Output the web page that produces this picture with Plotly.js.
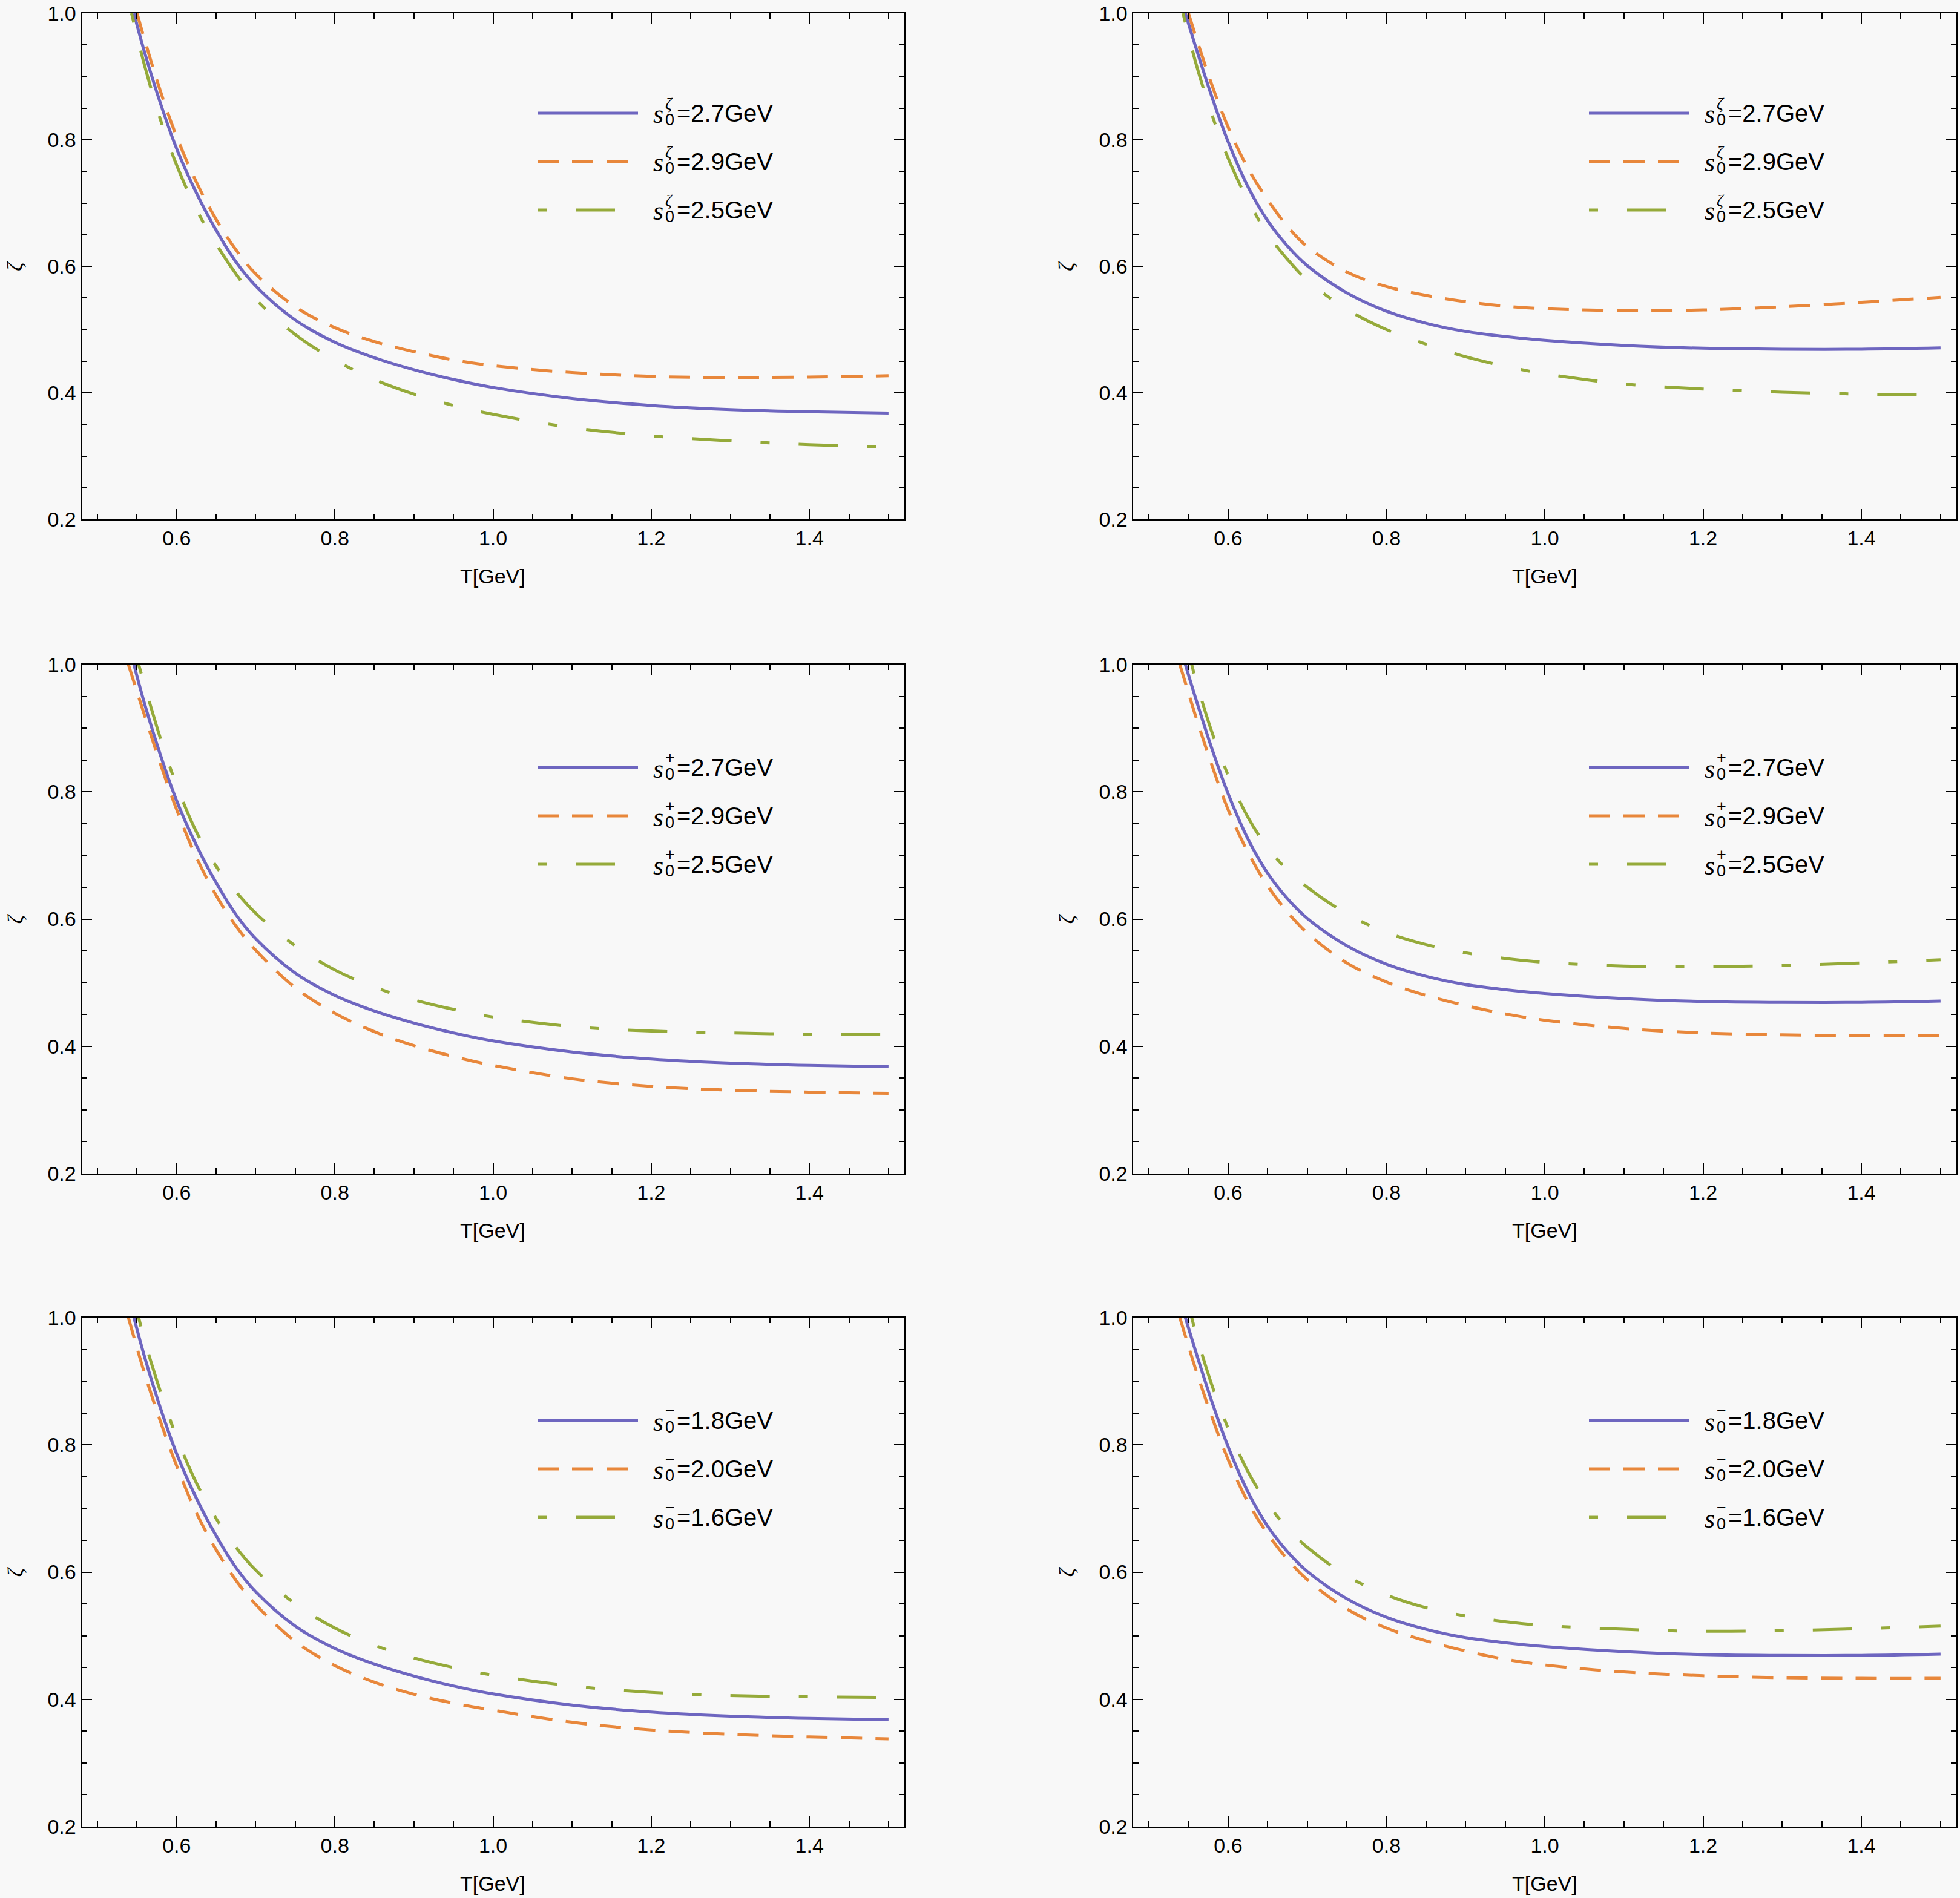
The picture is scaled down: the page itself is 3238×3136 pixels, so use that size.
<!DOCTYPE html>
<html>
<head>
<meta charset="utf-8">
<script src="https://cdn.plot.ly/plotly-3.0.1.min.js"></script>
<style>
  html, body { margin: 0; padding: 0; background: #f8f8f8; }
  #chart { width: 3238px; height: 3136px; }
</style>
</head>
<body>
<div id="chart"></div>
<script>
// temperature grid (GeV), shared by every curve after its own start point
var T = [0.56, 0.58, 0.6, 0.625, 0.65, 0.675, 0.7, 0.75, 0.8, 0.85, 0.9, 0.95, 1.0, 1.1, 1.2, 1.3, 1.4, 1.5];

// where each curve leaves the top of the frame (zeta = 1)
var startMidL = 0.546, startMidR = 0.546;
var startOrange = [0.55, 0.55, 0.539, 0.539, 0.539, 0.539];
var startGreen  = [0.543, 0.543, 0.552, 0.554, 0.552, 0.554];

// central curves (s0 = 2.7 / 1.8 GeV), same in each column
var midLeft  = [0.936, 0.856, 0.786, 0.716, 0.657, 0.607, 0.569, 0.515, 0.480, 0.4555, 0.4365, 0.421, 0.4085, 0.391, 0.380, 0.3735, 0.370, 0.368];
var midRight = [0.943, 0.866, 0.797, 0.726, 0.672, 0.632, 0.601, 0.558, 0.529, 0.510, 0.497, 0.489, 0.483, 0.475, 0.4705, 0.469, 0.469, 0.471];

// dashed (orange) curves, panel 1..6
var orange1 = [0.956, 0.875, 0.805, 0.733, 0.674, 0.626, 0.588, 0.536, 0.503, 0.481, 0.465, 0.452, 0.443, 0.432, 0.426, 0.424, 0.425, 0.427];
var orange2 = [0.96, 0.885, 0.82, 0.755, 0.705, 0.663, 0.631, 0.591, 0.568, 0.554, 0.544, 0.537, 0.533, 0.530, 0.531, 0.536, 0.543, 0.551];
var orange3 = [0.918, 0.842, 0.772, 0.697, 0.637, 0.589, 0.551, 0.492, 0.452, 0.423, 0.401, 0.384, 0.370, 0.349, 0.337, 0.331, 0.328, 0.326];
var orange4 = [0.915, 0.84, 0.772, 0.705, 0.652, 0.611, 0.578, 0.531, 0.501, 0.48, 0.464, 0.451, 0.441, 0.428, 0.421, 0.418, 0.417, 0.417];
var orange5 = [0.91, 0.835, 0.767, 0.693, 0.635, 0.587, 0.549, 0.491, 0.453, 0.427, 0.408, 0.394, 0.383, 0.364, 0.352, 0.345, 0.341, 0.338];
var orange6 = [0.915, 0.842, 0.777, 0.71, 0.66, 0.62, 0.588, 0.542, 0.512, 0.492, 0.476, 0.463, 0.454, 0.443, 0.437, 0.434, 0.433, 0.433];

// dot-dashed (green) curves, panel 1..6
var green1 = [0.915, 0.83, 0.76, 0.69, 0.635, 0.588, 0.548, 0.492, 0.452, 0.421, 0.398, 0.38, 0.366, 0.345, 0.332, 0.324, 0.318, 0.314];
var green2 = [0.918, 0.838, 0.771, 0.704, 0.651, 0.611, 0.578, 0.532, 0.50, 0.477, 0.457, 0.442, 0.43, 0.414, 0.406, 0.401, 0.398, 0.396];
var green3 = [0.965, 0.882, 0.81, 0.737, 0.683, 0.643, 0.609, 0.558, 0.52, 0.493, 0.473, 0.458, 0.446, 0.431, 0.424, 0.421, 0.419, 0.419];
var green4 = [0.972, 0.892, 0.826, 0.76, 0.712, 0.677, 0.65, 0.608, 0.579, 0.560, 0.547, 0.538, 0.532, 0.526, 0.525, 0.527, 0.531, 0.536];
var green5 = [0.962, 0.882, 0.812, 0.74, 0.684, 0.639, 0.603, 0.55, 0.512, 0.485, 0.465, 0.45, 0.438, 0.421, 0.411, 0.406, 0.404, 0.403];
var green6 = [0.972, 0.892, 0.826, 0.758, 0.707, 0.669, 0.639, 0.594, 0.564, 0.544, 0.531, 0.522, 0.516, 0.510, 0.507, 0.508, 0.511, 0.515];

// legend texts
var legendSym = ['\u03B6', '\u03B6', '+', '+', '\u2212', '\u2212'];
var legendVals = [
  ['2.7', '2.9', '2.5'], ['2.7', '2.9', '2.5'],
  ['2.7', '2.9', '2.5'], ['2.7', '2.9', '2.5'],
  ['1.8', '2.0', '1.6'], ['1.8', '2.0', '1.6']
];

var colors = ['#6e66c0', '#e8873b', '#95aa3a'];
var dashes = ['solid', '35px,22px', '15px,48px,65px,48px'];

var oranges = [orange1, orange2, orange3, orange4, orange5, orange6];
var greens = [green1, green2, green3, green4, green5, green6];

// panel geometry in px
var W = 3238, H = 3136;
var colX = [[135, 1494], [1872, 3232]];
var rowY = [[22, 858], [1098, 1939], [2177, 3018]];

var sans = 'Liberation Sans, Arial, Helvetica, sans-serif';
var serif = 'Liberation Serif, Times New Roman, serif';

var data = [];
var layout = {
  width: W, height: H,
  margin: {l: 0, r: 0, t: 0, b: 0},
  paper_bgcolor: '#f8f8f8',
  plot_bgcolor: '#f8f8f8',
  showlegend: false,
  shapes: [],
  annotations: []
};

function axisBase() {
  return {
    showline: true, mirror: 'allticks', linecolor: '#000', linewidth: 2.5,
    ticks: 'inside', ticklen: 17, tickwidth: 2, tickcolor: '#000',
    tick0: 0, dtick: 0.2, tickformat: '.1f', ticklabeloverflow: 'allow',
    minor: {tick0: 0, dtick: 0.05, ticks: 'inside', ticklen: 9, tickwidth: 2, tickcolor: '#000', showgrid: false},
    showgrid: false, zeroline: false, fixedrange: true,
    tickfont: {family: sans, size: 34, color: '#000'}
  };
}

for (var i = 0; i < 6; i++) {
  var col = i % 2, row = Math.floor(i / 2);
  var suf = i === 0 ? '' : String(i + 1);
  var xa = 'x' + suf, ya = 'y' + suf;
  var panelW = colX[col][1] - colX[col][0];
  var panelH = rowY[row][1] - rowY[row][0];

  var ax = axisBase();
  ax.domain = [colX[col][0] / W, colX[col][1] / W];
  ax.range = [0.48, 1.52];
  ax.anchor = ya;
  var ay = axisBase();
  ay.domain = [1 - rowY[row][1] / H, 1 - rowY[row][0] / H];
  ay.range = [0.2, 1.0];
  ay.anchor = xa;
  layout['xaxis' + suf] = ax;
  layout['yaxis' + suf] = ay;

  var mid = col === 0 ? midLeft : midRight;
  var midStart = col === 0 ? startMidL : startMidR;
  var series = [
    {x0: midStart, y: mid},
    {x0: startOrange[i], y: oranges[i]},
    {x0: startGreen[i], y: greens[i]}
  ];
  for (var k = 0; k < 3; k++) {
    data.push({
      type: 'scatter', mode: 'lines', xaxis: xa, yaxis: ya,
      x: [series[k].x0].concat(T),
      y: [1.0].concat(series[k].y),
      line: {color: colors[k], width: 5, dash: dashes[k], shape: 'spline', smoothing: 1},
      cliponaxis: true, hoverinfo: 'skip'
    });
  }

  var xd = xa + ' domain', yd = ya + ' domain';

  // axis titles
  layout.annotations.push({
    xref: xd, yref: yd, x: 0.5, y: 0, yshift: -94, xanchor: 'center', yanchor: 'middle',
    showarrow: false, text: 'T[GeV]', font: {family: sans, size: 34, color: '#000'}
  });
  layout.annotations.push({
    xref: xd, yref: yd, x: 0, y: 0.5, xshift: -110, xanchor: 'center', yanchor: 'middle',
    showarrow: false, textangle: -90, text: '<i>\u03B6</i>', font: {family: serif, size: 36, color: '#000'}
  });

  // legend, measured in px from the panel's top-left corner
  var topPad = 17 - (rowY[row][0] - (row === 0 ? 17 : rowY[row][0]));
  var rowsPx = [170, 250, 330];
  for (var k = 0; k < 3; k++) {
    var yy = 1 - (rowsPx[k] - (row === 0 ? 5 : 0)) / panelH;
    layout.shapes.push({
      type: 'line', xref: xd, yref: yd,
      x0: 753 / panelW, x1: 919 / panelW, y0: yy, y1: yy,
      line: {color: colors[k], width: 5, dash: dashes[k]}
    });
    layout.annotations.push({
      xref: xd, yref: yd, x: 942 / panelW, y: yy, yshift: -2,
      xanchor: 'left', yanchor: 'middle', showarrow: false,
      text: '<i>s</i>', font: {family: serif, size: 44, color: '#000'}
    });
    layout.annotations.push({
      xref: xd, yref: yd, x: 962 / panelW, y: yy, yshift: 16,
      xanchor: 'left', yanchor: 'middle', showarrow: false,
      text: legendSym[i] === '\u03B6' ? '<i>\u03B6</i>' : legendSym[i],
      font: {family: legendSym[i] === '\u03B6' ? serif : sans, size: 27, color: '#000'}
    });
    layout.annotations.push({
      xref: xd, yref: yd, x: 962 / panelW, y: yy, yshift: -11,
      xanchor: 'left', yanchor: 'middle', showarrow: false,
      text: '0', font: {family: sans, size: 27, color: '#000'}
    });
    layout.annotations.push({
      xref: xd, yref: yd, x: 981 / panelW, y: yy,
      xanchor: 'left', yanchor: 'middle', showarrow: false,
      text: '=' + legendVals[i][k] + 'GeV', font: {family: sans, size: 40, color: '#000'}
    });
  }
}

Plotly.newPlot('chart', data, layout, {staticPlot: true, displayModeBar: false});
</script>
</body>
</html>
